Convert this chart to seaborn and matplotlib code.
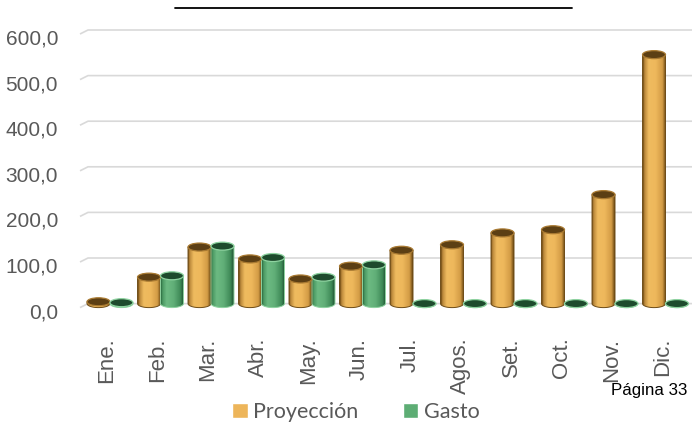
import numpy as np
import pandas as pd
import matplotlib
matplotlib.use("Agg")
import matplotlib.pyplot as plt
import seaborn as sns
from matplotlib.colors import LinearSegmentedColormap, to_rgba
from matplotlib.patches import Ellipse, PathPatch, Patch
from matplotlib.path import Path
from matplotlib.lines import Line2D
from matplotlib.transforms import ScaledTranslation

# ---- data -------------------------------------------------------------
meses = ["Ene.", "Feb.", "Mar.", "Abr.", "May.", "Jun.",
         "Jul.", "Agos.", "Set.", "Oct.", "Nov.", "Dic."]
proyeccion = [4, 58, 124, 98, 54, 82, 117, 129, 155, 162, 239, 546]
gasto = [2, 61, 126, 101, 58, 85, 0, 0, 0, 0, 0, 0]
series = ["Proyección", "Gasto"]
y_ticks = [0, 100, 200, 300, 400, 500, 600]
y_tick_labels = ["0,0", "100,0", "200,0", "300,0", "400,0", "500,0", "600,0"]

df = pd.DataFrame({
    "mes": meses * 2,
    "serie": [series[0]] * len(meses) + [series[1]] * len(meses),
    "valor": proyeccion + gasto,
})

# ---- style ------------------------------------------------------------
sns.set_theme(style="white")
plt.rcParams["font.family"] = ["Liberation Sans", "DejaVu Sans"]

ORANGE = "#EDB55A"
GREEN = "#5DAD74"
GRID = "#D9D9D9"
TXT = "#595959"

W, H = 692, 423
fig = plt.figure(figsize=(W / 100, H / 100), dpi=100)
fig.patch.set_facecolor("white")
ax = fig.add_axes([80 / W, 100 / H, 612 / W, 303 / H])

sns.barplot(data=df, x="mes", y="valor", hue="serie", order=meses,
            hue_order=series, palette=[ORANGE, GREEN], width=0.91,
            saturation=1, errorbar=None, legend=False, ax=ax)

# pixel scale of the axes
px_x = 50.5      # pixels per category
px_y = 0.456     # pixels per value unit
x_left = -30 / px_x
x_right = (W - 110) / px_x
y_bottom = -19.4 / px_y
y_top = 600 + 10 / px_y
b = 4.0 / px_y   # half height of the cylinder ellipses

styles = {
    "o": dict(
        cmap=LinearSegmentedColormap.from_list("body_o", [
            (0.0, "#6F4B14"), (0.07, "#B9873A"), (0.25, "#EFBB5F"),
            (0.55, "#EEB85C"), (0.85, "#D29B45"), (1.0, "#64420F")]),
        top="#5C3F14", rim="#A97A32", outline="#6E4C17"),
    "g": dict(
        cmap=LinearSegmentedColormap.from_list("body_g", [
            (0.0, "#2B6B40"), (0.07, "#4A9862"), (0.25, "#6CBA82"),
            (0.55, "#61AF78"), (0.85, "#3E8957"), (1.0, "#1D4E2E")]),
        top="#1E4B2D", rim="#8ED3A0", outline="#8ED3A0"),
}

grad = np.linspace(0, 1, 256).reshape(1, -1)
t = np.linspace(np.pi, 2 * np.pi, 40)

for bar in list(ax.patches):
    x, w, h = bar.get_x(), bar.get_width(), bar.get_height()
    key = "o" if np.allclose(to_rgba(bar.get_facecolor())[:3], to_rgba(ORANGE)[:3], atol=0.02) else "g"
    st = styles[key]
    bar.set_visible(False)
    cx, a = x + w / 2, w / 2
    # body: rectangle with rounded (elliptical) bottom
    verts = [(cx + a * np.cos(tt), b * np.sin(tt)) for tt in t]
    verts += [(x + w, h), (x, h), verts[0]]
    codes = [Path.MOVETO] + [Path.LINETO] * (len(verts) - 2) + [Path.CLOSEPOLY]
    body = Path(verts, codes)
    clip = PathPatch(body, transform=ax.transData, facecolor="none",
                     edgecolor=st["outline"], lw=0.7, zorder=3.1)
    ax.add_patch(clip)
    im = ax.imshow(grad, cmap=st["cmap"], extent=[x, x + w, -b, max(h, 0.01)],
                   aspect="auto", origin="lower", interpolation="bilinear",
                   zorder=3)
    im.set_clip_path(clip)
    # top face
    ax.add_patch(Ellipse((cx, h), w, 2 * b, facecolor=st["top"],
                         edgecolor=st["rim"], lw=0.9, zorder=4))

# back-wall gridlines with a short floor bevel on the left
bev = 8 / px_x
for v in y_ticks:
    ax.plot([x_left, x_left + bev, x_right + 1], [v - 4 / px_y, v, v],
            color=GRID, lw=1.2, zorder=1, clip_on=False,
            solid_capstyle="butt")

ax.set_xlim(x_left, x_right)
ax.set_ylim(y_bottom, y_top)
for s in ax.spines.values():
    s.set_visible(False)
ax.set_xlabel("")
ax.set_ylabel("")

ax.set_yticks(y_ticks)
ax.set_yticklabels(y_tick_labels, fontsize=15, color=TXT)
ax.tick_params(axis="y", length=0, pad=15.8)
down = ScaledTranslation(0, -7 / 100, fig.dpi_scale_trans)
for lab in ax.get_yticklabels():
    lab.set_transform(lab.get_transform() + down)

ax.set_xticks(range(len(meses)))
ax.set_xticklabels(meses, rotation=90, fontsize=16, color=TXT)
ax.tick_params(axis="x", length=0, pad=10.5)
left = ScaledTranslation(-3 / 100, 0, fig.dpi_scale_trans)
for lab in ax.get_xticklabels():
    lab.set_transform(lab.get_transform() + left)

# legend
handles = [Patch(facecolor=ORANGE, label=series[0]),
           Patch(facecolor=GREEN, label=series[1])]
fig.legend(handles=handles, loc="center", bbox_to_anchor=(356 / W, 1 - 412 / H),
           ncol=2, frameon=False, handlelength=0.7, handleheight=0.7,
           handletextpad=0.25, columnspacing=2.1, borderaxespad=0,
           prop={"family": ["Lato", "DejaVu Sans"], "size": 15.5},
           labelcolor=TXT)

# header rule and page footer
fig.add_artist(Line2D([175 / W, 572 / W], [1 - 8 / H, 1 - 8 / H],
                      transform=fig.transFigure, color="black", lw=1.3))
fig.text(611 / W, 1 - 390 / H, "Página 33", fontsize=12.2, color="black",
         va="center", ha="left")

fig.savefig("out.png", dpi=100)
